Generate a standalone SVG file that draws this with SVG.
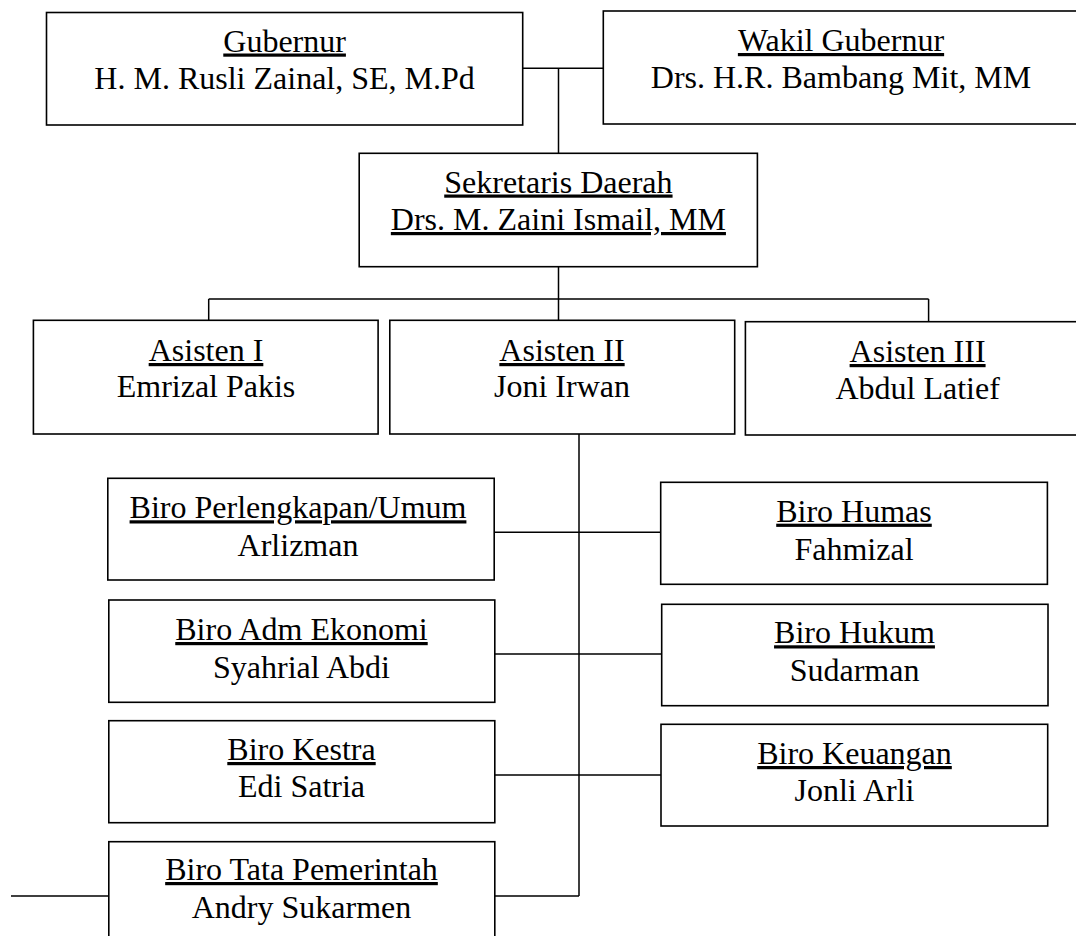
<svg xmlns="http://www.w3.org/2000/svg" width="1076" height="936" viewBox="0 0 1076 936">
<style>
.box{fill:#fff;stroke:#000;stroke-width:1.6}
.ln{fill:none;stroke:#000;stroke-width:1.5}
text{font-family:"Liberation Serif","Times New Roman",serif;font-size:32px;fill:#000;text-anchor:middle}
.u{text-decoration:underline}
</style>
<rect width="1076" height="936" fill="#fff"/>
<g id="connectors">
<path class="ln" d="M522.7,68.3H603.3M558.5,68.3V153.3"/>
<path class="ln" d="M558.5,266.7V320.3M208.7,299H928.6M208.7,299V320.3M928.6,299V321.7"/>
<path class="ln" d="M579,434V896M494.2,532.3H660.7M494.8,654H661.7M494.8,775H661M11,896H579"/>
</g>
<g id="gubernur">
<rect class="box" x="46.5" y="12.5" width="476.2" height="112.5"/>
<text x="284.6" y="51.5" class="u">Gubernur</text>
<text x="284.6" y="89">H. M. Rusli Zainal, SE, M.Pd</text>
</g>
<g id="wakil">
<rect class="box" x="603.3" y="11" width="480" height="113"/>
<text x="841" y="51" class="u">Wakil Gubernur</text>
<text x="841" y="88">Drs. H.R. Bambang Mit, MM</text>
</g>
<g id="sekda">
<rect class="box" x="359.2" y="153.3" width="398.2" height="113.4"/>
<text x="558.4" y="192.5" class="u">Sekretaris Daerah</text>
<text x="558.4" y="230" class="u">Drs. M. Zaini Ismail, MM</text>
</g>
<g id="asisten1">
<rect class="box" x="33.4" y="320.3" width="344.7" height="113.7"/>
<text x="206" y="361" class="u">Asisten I</text>
<text x="206" y="397">Emrizal Pakis</text>
</g>
<g id="asisten2">
<rect class="box" x="389.8" y="320.3" width="344.9" height="113.7"/>
<text x="562" y="361" class="u">Asisten II</text>
<text x="562" y="397">Joni Irwan</text>
</g>
<g id="asisten3">
<rect class="box" x="745.4" y="321.7" width="345" height="113.3"/>
<text x="917.6" y="362" class="u">Asisten III</text>
<text x="917.6" y="398.5">Abdul Latief</text>
</g>
<g id="biro-perlengkapan">
<rect class="box" x="107.8" y="478.3" width="386.4" height="101.7"/>
<text x="298" y="518.3" class="u">Biro Perlengkapan/Umum</text>
<text x="298" y="556">Arlizman</text>
</g>
<g id="biro-humas">
<rect class="box" x="660.7" y="482.3" width="386.7" height="102"/>
<text x="854" y="521.7" class="u">Biro Humas</text>
<text x="854" y="560">Fahmizal</text>
</g>
<g id="biro-adm-ekonomi">
<rect class="box" x="108.8" y="600" width="386" height="102.3"/>
<text x="301.5" y="640" class="u">Biro Adm Ekonomi</text>
<text x="301.5" y="677.5">Syahrial Abdi</text>
</g>
<g id="biro-hukum">
<rect class="box" x="661.7" y="604.3" width="386.3" height="101.4"/>
<text x="854.5" y="643.3" class="u">Biro Hukum</text>
<text x="854.5" y="681">Sudarman</text>
</g>
<g id="biro-kestra">
<rect class="box" x="108.8" y="720.7" width="386" height="102"/>
<text x="301.5" y="760" class="u">Biro Kestra</text>
<text x="301.5" y="797">Edi Satria</text>
</g>
<g id="biro-keuangan">
<rect class="box" x="661" y="724.3" width="386.7" height="101.7"/>
<text x="854.5" y="764" class="u">Biro Keuangan</text>
<text x="854.5" y="801">Jonli Arli</text>
</g>
<g id="biro-tata-pemerintah">
<rect class="box" x="108.8" y="841.7" width="386" height="102"/>
<text x="301.5" y="880" class="u">Biro Tata Pemerintah</text>
<text x="301.5" y="918">Andry Sukarmen</text>
</g>
</svg>
